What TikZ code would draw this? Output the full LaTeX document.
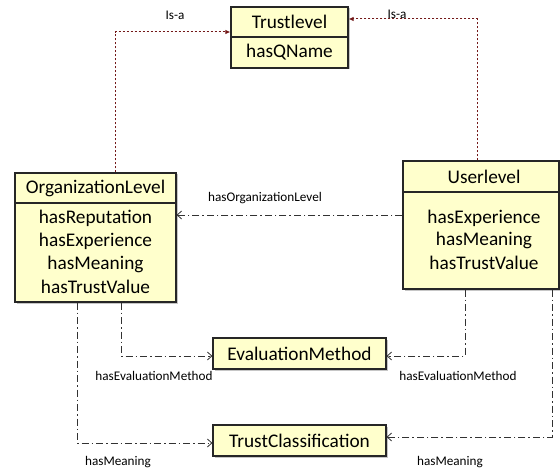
\documentclass[tikz,border=0pt]{standalone}
\usepackage{fontspec}
\setmainfont{Carlito}
\usetikzlibrary{arrows.meta,shadows}
\definecolor{boxfill}{RGB}{255,255,204}
\definecolor{isared}{RGB}{115,25,25}
\definecolor{conn}{RGB}{50,50,50}
\tikzset{
  umlbox/.style={draw=black!85,line width=1.1pt,fill=boxfill,rectangle,inner sep=0pt,
    drop shadow={shadow xshift=1.5pt,shadow yshift=-1.5pt,opacity=0.45}},
  boxtext/.style={font=\fontsize{19.3}{21}\selectfont,inner sep=0pt,anchor=center},
  lbl/.style={font=\fontsize{13.2}{14}\selectfont,inner sep=0pt,anchor=center},
  isa/.style={draw=isared,line width=1pt,dash pattern=on 2.5pt off 1.5pt,
    -{Latex[length=5pt,width=4.5pt]}},
  rel/.style={draw=conn,line width=0.8pt,dash pattern=on 7pt off 3pt on 1.5pt off 3pt,
    -{Straight Barb[length=4.5pt,width=8pt]}}
}
\begin{document}
\begin{tikzpicture}[x=1pt,y=-1pt]
\useasboundingbox (0,0) rectangle (560,468);
% boxes
\node[umlbox,minimum width=117pt,minimum height=61pt] (tl) at (289.5,37.5) {};
\node[umlbox,minimum width=161pt,minimum height=129pt] (org) at (95.5,237.5) {};
\node[umlbox,minimum width=156pt,minimum height=128pt] (user) at (481,225) {};
\node[umlbox,minimum width=173pt,minimum height=31pt] (em) at (299.5,353.5) {};
\node[umlbox,minimum width=173pt,minimum height=31pt] (tc) at (299.5,440.5) {};
% dividers
\draw[black!85,line width=1.1pt] (tl.west |- 0,37) -- (tl.east |- 0,37);
\draw[black!85,line width=1.1pt] (org.west |- 0,203) -- (org.east |- 0,203);
\draw[black!85,line width=1.1pt] (user.west |- 0,192) -- (user.east |- 0,192);
% box texts
\node[boxtext] (tlt) at (289.5,22) {Trustlevel};
\node[boxtext] (tla) at (289.5,52.5) {hasQName};
\node[boxtext] (orgt) at (95.5,188) {OrganizationLevel};
\node[boxtext] (orga1) at (95.5,218) {hasReputation};
\node[boxtext] (orga2) at (95.5,241) {hasExperience};
\node[boxtext] (orga3) at (95.5,264) {hasMeaning};
\node[boxtext] (orga4) at (95.5,287) {hasTrustValue};
\node[boxtext] (usert) at (484,177) {Userlevel};
\node[boxtext] (usera1) at (484,218) {hasExperience};
\node[boxtext] (usera2) at (484,240.5) {hasMeaning};
\node[boxtext] (usera3) at (484,263) {hasTrustValue};
\node[boxtext] (emt) at (299.5,354) {EvaluationMethod};
\node[boxtext] (tct) at (299.5,441) {TrustClassification};
% connectors
\draw[isa] (org.north -| 115,0) |- (tl.west |- 0,32);
\draw[isa] (user.north -| 477,0) |- (tl.east |- 0,19);
\draw[rel] (user.west |- 0,215) -- (org.east |- 0,215);
\draw[rel] (org.south -| 121,0) |- (em.west |- 0,356);
\draw[rel] (user.south -| 465,0) |- (em.east |- 0,356);
\draw[rel] (org.south -| 77,0) |- (tc.west |- 0,443);
\draw[rel] (user.south -| 552,0) |- (tc.east |- 0,437);
% labels
\node[lbl] (l1) at (175,15) {Is-a};
\node[lbl] (l2) at (397,14) {Is-a};
\node[lbl] (l3) at (265,198) {hasOrganizationLevel};
\node[lbl] (l4) at (154,376) {hasEvaluationMethod};
\node[lbl] (l5) at (458,376) {hasEvaluationMethod};
\node[lbl] (l6) at (118,462) {hasMeaning};
\node[lbl] (l7) at (450,462) {hasMeaning};
\end{tikzpicture}
\end{document}
